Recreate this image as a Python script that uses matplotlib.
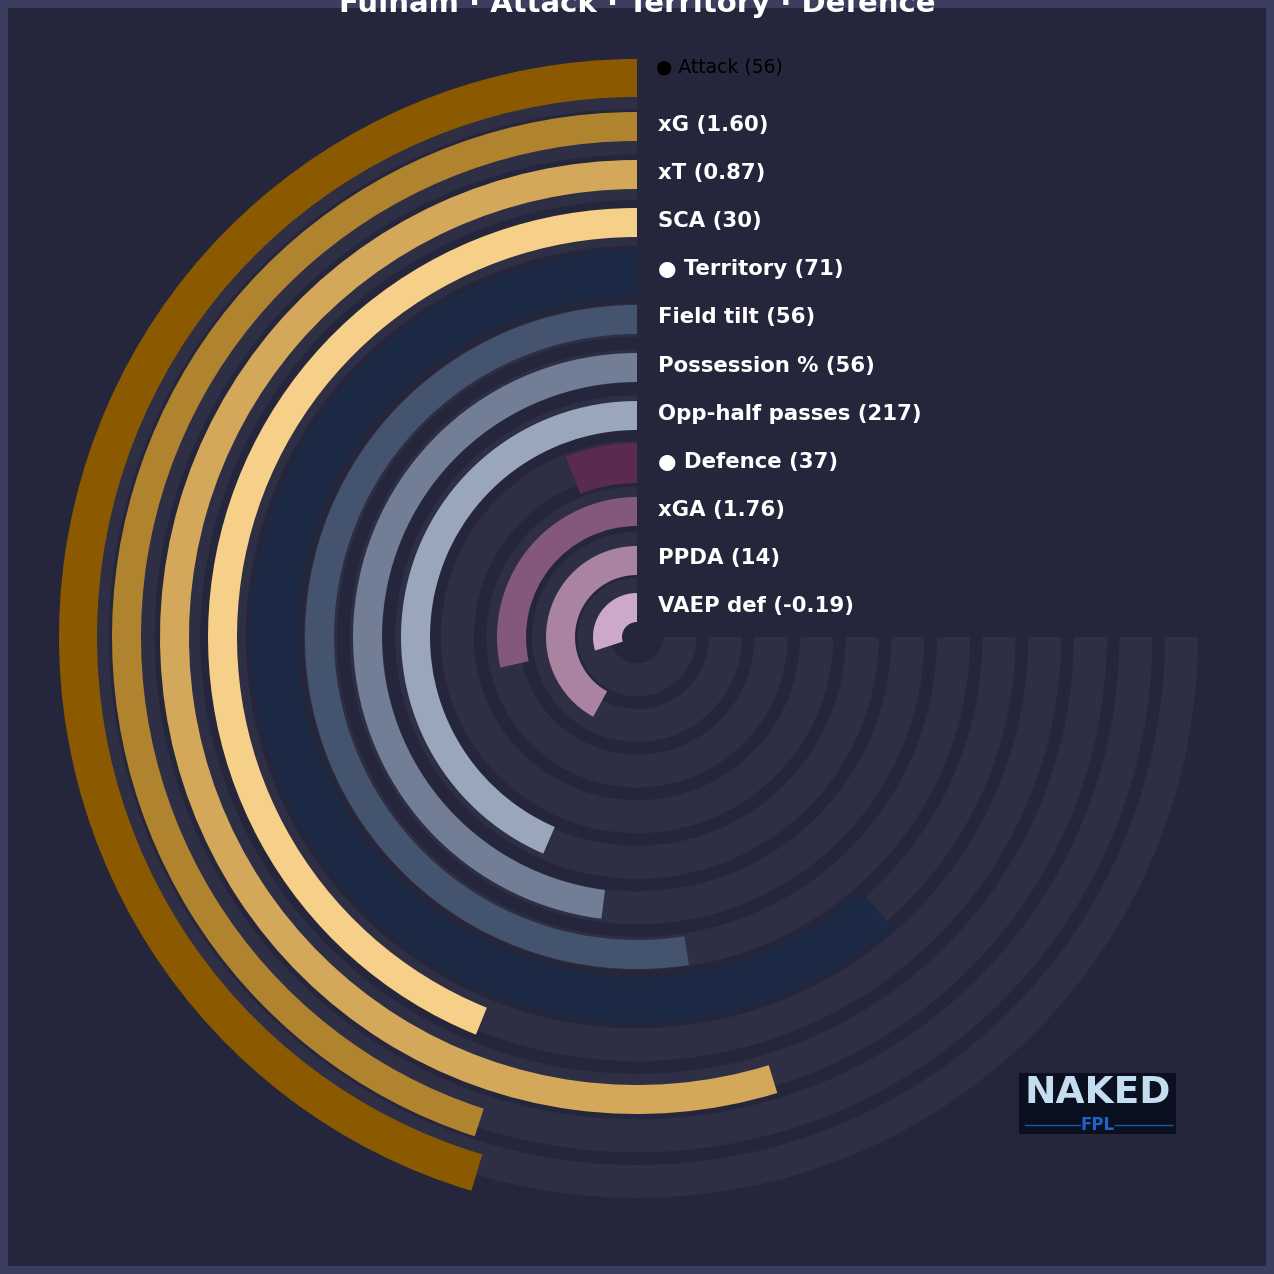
import numpy as np
import matplotlib
matplotlib.use("Agg")
import matplotlib.pyplot as plt
from matplotlib.patches import Rectangle
from matplotlib.transforms import offset_copy

# ring labels, outer to inner
labels = ["● Attack (56)", "xG (1.60)", "xT (0.87)", "SCA (30)",
          "● Territory (71)", "Field tilt (56)", "Possession % (56)",
          "Opp-half passes (217)", "● Defence (37)", "xGA (1.76)",
          "PPDA (14)", "VAEP def (-0.19)"]
# percentile shown by each arc (0-100, of a 270 degree sweep)
pct = [60.5, 60, 73, 58.5, 82, 70, 64, 58, 8, 38, 56, 40]
colors = ["#8B5A00", "#B0832F", "#D4A85A", "#F6CF88",
          "#1C2A45", "#45546E", "#717E96", "#9AA6BB",
          "#5A2A50", "#83587C", "#A9839F", "#CDA9C9"]

# layout (radius in pixels)
bar_inner = [540, 496, 448, 400, 340, 303, 255, 207, 154, 111, 62, 15]
bar_width = [38, 29, 29, 29, 46, 29, 29, 29, 40, 29, 29, 29]
label_r = [570, 512, 464, 416, 368, 320, 271, 223, 175, 127, 79, 31]
track_outer0, track_pitch, track_w = 561, 45.6, 33

BG = "#25253B"
BORDER = "#3B3E5E"
TRACK = "#2E2E44"
SWEEP = 1.5 * np.pi

W = 1274
fig = plt.figure(figsize=(12.74, 12.74), dpi=100)
fig.patch.set_facecolor(BORDER)
fig.add_artist(Rectangle((8 / W, 8 / W), 1 - 16 / W, 1 - 16 / W,
                         transform=fig.transFigure, facecolor=BG,
                         edgecolor="none", zorder=-5))

R = 600
cx, cy = 637, 637
ax = fig.add_axes([(cx - R) / W, (W - cy - R) / W, 2 * R / W, 2 * R / W],
                  projection="polar")
ax.set_facecolor("none")
ax.set_theta_zero_location("N")
ax.set_theta_direction(1)
ax.set_ylim(0, R)
ax.set_axis_off()

# background tracks
for i in range(len(labels)):
    outer = track_outer0 - track_pitch * i
    ax.bar(0, track_w, width=SWEEP, bottom=outer - track_w, align="edge",
           color=TRACK, edgecolor="none", zorder=1)

# value arcs
for i, p in enumerate(pct):
    ax.bar(0, bar_width[i], width=SWEEP * p / 100, bottom=bar_inner[i],
           align="edge", color=colors[i], edgecolor="none", zorder=2)

# labels at the top of each ring
for i, lab in enumerate(labels):
    if i == 0:
        tr = offset_copy(ax.transData, fig=fig, x=19, y=0, units="dots")
        ax.text(0, label_r[i], lab, transform=tr, ha="left", va="center",
                fontsize=13.5, color="black", zorder=5)
    else:
        tr = offset_copy(ax.transData, fig=fig, x=21, y=0, units="dots")
        ax.text(0, label_r[i], lab, transform=tr, ha="left", va="center",
                fontsize=15.3, fontweight="bold", color="white", zorder=5)

# title, partly off the top edge
fig.text(0.5, 1 - 12 / W, "Fulham · Attack · Territory · Defence",
         ha="center", va="baseline", fontsize=21, fontweight="bold",
         color="white")

# logo box
lx0, ly0, lx1, ly1 = 1019, 1073, 1176, 1134
fig.add_artist(Rectangle((lx0 / W, 1 - ly1 / W), (lx1 - lx0) / W,
                         (ly1 - ly0) / W, transform=fig.transFigure,
                         facecolor="#0A1020", edgecolor="none", zorder=3))
fig.text((lx0 + lx1) / 2 / W, 1 - 1093 / W, "NAKED", ha="center",
         va="center", fontsize=27, fontweight="bold", color="#C4DDF0",
         zorder=4)
fig.text((lx0 + lx1) / 2 / W, 1 - 1125 / W, "FPL", ha="center",
         va="center", fontsize=12, fontweight="bold", color="#1F63C6",
         zorder=4)
for xa, xb in [(1025, 1080), (1115, 1172)]:
    fig.add_artist(plt.Line2D([xa / W, xb / W], [1 - 1125 / W] * 2,
                              transform=fig.transFigure, color="#1A5AA0",
                              lw=1, zorder=4))

fig.savefig("out.png", dpi=100, facecolor=fig.get_facecolor())
